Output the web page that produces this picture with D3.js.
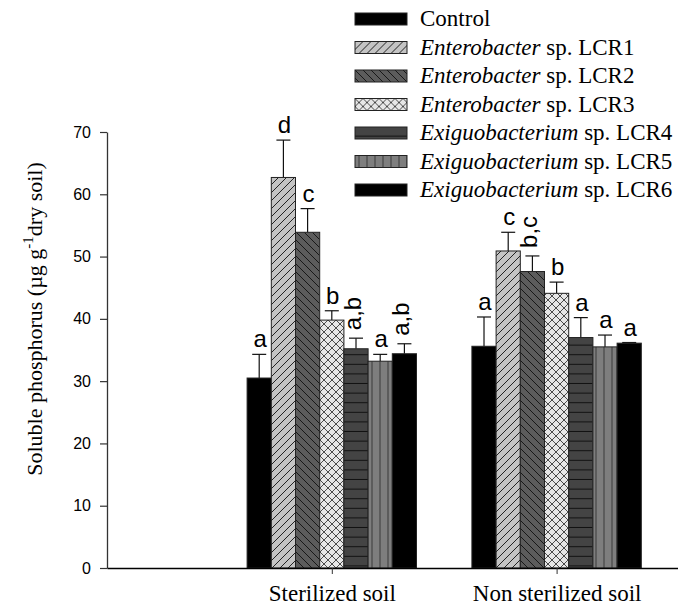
<!DOCTYPE html>
<html>
<head>
<meta charset="utf-8">
<script src="https://cdn.jsdelivr.net/npm/d3@7"></script>
<style>
  body { margin: 0; background: #fff; }
  svg { display: block; }
  .serif { font-family: "Liberation Serif", "Times New Roman", Times, "DejaVu Serif", serif; }
  .sans { font-family: "Liberation Sans", Arial, Helvetica, sans-serif; }
</style>
</head>
<body>
<svg id="chart" width="678" height="606"></svg>
<script>
// Soil conditions on the x axis
const soils = ["Sterilized soil", "Non sterilized soil"];

// Treatments (one bar per treatment within each soil group)
const treatments = ["Control", "LCR1", "LCR2", "LCR3", "LCR4", "LCR5", "LCR6"];
const legendGenus = ["", "Enterobacter", "Enterobacter", "Enterobacter",
                     "Exiguobacterium", "Exiguobacterium", "Exiguobacterium"];
const legendSuffix = ["Control", " sp. LCR1", " sp. LCR2", " sp. LCR3",
                      " sp. LCR4", " sp. LCR5", " sp. LCR6"];

// Soluble phosphorus means and standard deviations (µg g-1 dry soil)
const sterilizedMeans = [30.5, 62.7, 53.9, 39.8, 35.2, 33.2, 34.4];
const sterilizedErrors = [3.8, 6.0, 3.8, 1.5, 1.7, 1.1, 1.6];
const nonSterilizedMeans = [35.6, 50.9, 47.6, 44.1, 37.0, 35.5, 36.1];
const nonSterilizedErrors = [4.7, 3.0, 2.5, 1.8, 3.2, 1.9, 0.1];

// Significance letters
const sterilizedLetters = ["a", "d", "c", "b", "a,b", "a", "a,b"];
const nonSterilizedLetters = ["a", "c", "b,c", "b", "a", "a", "a"];

// Axis ticks
const yTicks = [0, 10, 20, 30, 40, 50, 60, 70];

const groups = [
  { soil: soils[0], pos: 1, means: sterilizedMeans, errors: sterilizedErrors, letters: sterilizedLetters },
  { soil: soils[1], pos: 2, means: nonSterilizedMeans, errors: nonSterilizedErrors, letters: nonSterilizedLetters }
];

const svg = d3.select("#chart");
const defs = svg.append("defs");

// Fill patterns, one per treatment
function makePattern(id, size, bg, draw) {
  const p = defs.append("pattern")
    .attr("id", id)
    .attr("patternUnits", "userSpaceOnUse")
    .attr("width", size).attr("height", size);
  p.append("rect").attr("width", size).attr("height", size).attr("fill", bg);
  draw(p, size);
}
const lineStyle = (sel, c, w) => sel.attr("stroke", c).attr("stroke-width", w).attr("fill", "none");

makePattern("p-lcr1", 8, "#c4c4c4", (p, s) => {
  lineStyle(p.append("path").attr("d", `M0,${s} L${s},0 M-2,2 L2,-2 M${s - 2},${s + 2} L${s + 2},${s - 2}`), "#111", 0.9);
});
makePattern("p-lcr2", 8, "#5c5c5c", (p, s) => {
  lineStyle(p.append("path").attr("d", `M0,0 L${s},${s} M-2,${s - 2} L2,${s + 2} M${s - 2},-2 L${s + 2},2`), "#111", 0.9);
});
makePattern("p-lcr3", 8, "#e6e6e6", (p, s) => {
  lineStyle(p.append("path").attr("d", `M0,0 L${s},${s} M0,${s} L${s},0`), "#222", 0.8);
});
makePattern("p-lcr4", 9.6, "#444444", (p, s) => {
  lineStyle(p.append("path").attr("d", `M0,${s - 0.5} L${s},${s - 0.5}`), "#111", 1);
});
makePattern("p-lcr5", 8, "#7e7e7e", (p, s) => {
  lineStyle(p.append("path").attr("d", `M${s / 2},0 L${s / 2},${s}`), "#3a3a3a", 1);
});
const fills = ["#000", "url(#p-lcr1)", "url(#p-lcr2)", "url(#p-lcr3)",
               "url(#p-lcr4)", "url(#p-lcr5)", "#000"];

// Scales
const y = d3.scaleLinear().domain([0, 70]).range([568, 132]);
const x = d3.scaleLinear().domain([0, 2.54]).range([107, 678]);
const inner = d3.scaleBand().domain(treatments).range([-84.7, 84.7]).padding(0);

// Bars, error bars and letters
groups.forEach(g => {
  const gx = x(g.pos);
  const gSel = svg.append("g").attr("class", "group");
  treatments.forEach((t, i) => {
    const x0 = gx + inner(t);
    const w = inner.bandwidth();
    const cx = x0 + w / 2;
    const top = g.means[i] + g.errors[i];

    // error bar (upper half only)
    gSel.append("line")
      .attr("x1", cx).attr("x2", cx)
      .attr("y1", y(g.means[i])).attr("y2", y(top))
      .attr("stroke", "#111").attr("stroke-width", 1.2);
    gSel.append("line")
      .attr("x1", cx - 7).attr("x2", cx + 7)
      .attr("y1", y(top)).attr("y2", y(top))
      .attr("stroke", "#111").attr("stroke-width", 1.2);

    gSel.append("rect")
      .attr("x", x0).attr("width", w)
      .attr("y", y(g.means[i]))
      .attr("height", y(0) - y(g.means[i]))
      .attr("fill", fills[i])
      .attr("stroke", "#222").attr("stroke-width", 1);

    const letter = g.letters[i];
    const lt = gSel.append("text")
      .attr("class", "sans")
      .attr("font-size", 24)
      .attr("fill", "#000")
      .text(letter);
    if (letter.includes(",")) {
      lt.attr("text-anchor", "start")
        .attr("transform", `translate(${cx + 5},${y(top) - 8}) rotate(-90)`);
    } else {
      lt.attr("text-anchor", "middle")
        .attr("x", cx + 1).attr("y", y(top) - 7);
    }
  });
});

// Y axis
const yAxis = svg.append("g")
  .attr("transform", `translate(${x(0)},0)`)
  .call(d3.axisLeft(y).tickValues(yTicks).tickSize(7).tickSizeOuter(0).tickPadding(9));
yAxis.attr("font-family", null);
yAxis.select(".domain").attr("stroke", "#333").attr("stroke-width", 1.3);
yAxis.selectAll(".tick line").attr("stroke", "#333").attr("stroke-width", 1.2);
yAxis.selectAll(".tick text")
  .attr("class", "sans")
  .attr("font-size", 16).attr("fill", "#000");

// X axis
const xAxis = svg.append("g")
  .attr("transform", `translate(0,${y(0)})`)
  .call(d3.axisBottom(x).tickValues(groups.map(g => g.pos))
    .tickFormat((d, i) => soils[i]).tickSize(6).tickSizeOuter(0));
xAxis.attr("font-family", null);
xAxis.select(".domain").attr("stroke", "#000").attr("stroke-width", 1.3);
xAxis.selectAll(".tick line").attr("stroke", "#333");
xAxis.selectAll(".tick text")
  .attr("class", "serif")
  .attr("font-size", 23).attr("fill", "#000")
  .attr("y", 33).attr("dy", 0);

// Y axis title
const yTitle = svg.append("text")
  .attr("class", "serif")
  .attr("transform", "translate(42,319) rotate(-90)")
  .attr("text-anchor", "middle")
  .attr("font-size", 22).attr("fill", "#000");
yTitle.append("tspan").text("Soluble phosphorus (µg g");
yTitle.append("tspan").attr("dy", -9).attr("font-size", 15).text("-1");
yTitle.append("tspan").attr("dy", 9).text("dry soil)");

// Legend
const legend = svg.append("g").attr("class", "legend");
treatments.forEach((t, i) => {
  const row = legend.append("g").attr("transform", `translate(355,${13 + i * 28.5})`);
  row.append("rect")
    .attr("width", 52).attr("height", 12)
    .attr("fill", fills[i])
    .attr("stroke", "#222").attr("stroke-width", 1);
  const txt = row.append("text")
    .attr("class", "serif")
    .attr("x", 65).attr("y", 13)
    .attr("font-size", 23).attr("fill", "#000");
  if (legendGenus[i]) {
    txt.append("tspan").attr("font-style", "italic").text(legendGenus[i]);
  }
  txt.append("tspan").text(legendSuffix[i]);
});
</script>
</body>
</html>
